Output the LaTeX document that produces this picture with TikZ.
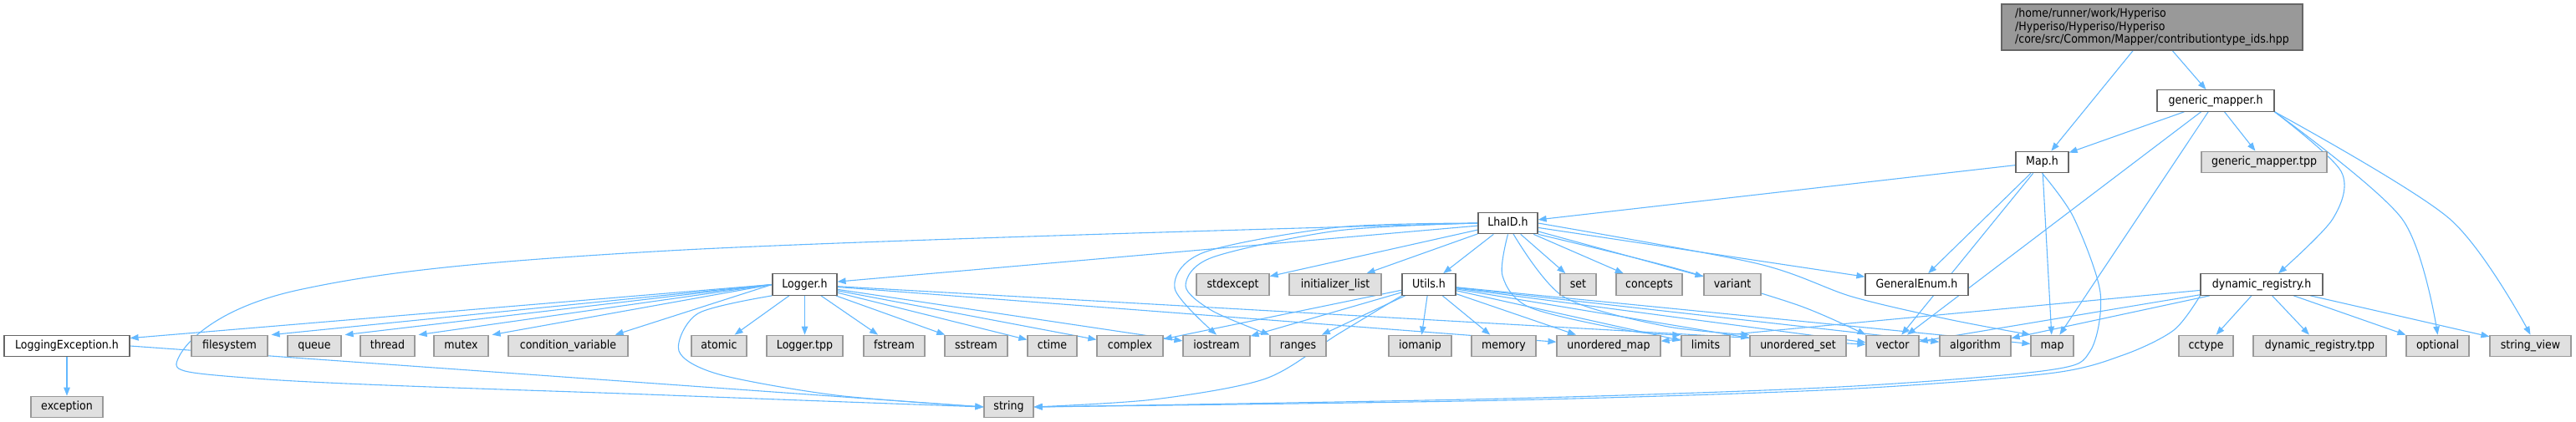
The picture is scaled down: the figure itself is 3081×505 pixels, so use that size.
\documentclass[tikz,border=0pt]{standalone}
\usepackage{fontspec}
\setmainfont{DejaVu Sans Condensed}
\usetikzlibrary{arrows.meta}
\usetikzlibrary{backgrounds}
\definecolor{edgeblue}{HTML}{63B8FF}
\definecolor{fileframe}{HTML}{666666}
\definecolor{sysframe}{HTML}{999999}
\definecolor{sysfill}{HTML}{E0E0E0}
\definecolor{rootfill}{HTML}{999999}
\tikzset{>={Triangle[length=10pt,width=7.5pt]}}
\tikzset{
  file/.style={draw=fileframe, fill=white, line width=1.2pt, minimum height=25.5pt,
    inner sep=0pt, text height=10.5pt, text depth=3pt, font=\fontsize{14}{16}\selectfont},
  sysfile/.style={file, draw=sysframe, fill=sysfill},
  dep/.style={->, draw=edgeblue, line width=1.1pt}
}

\begin{document}
\begin{tikzpicture}[x=1pt,y=-1pt]
\useasboundingbox (0,0) rectangle (3081,505);

% the file itself
\node[draw=fileframe, fill=rootfill, line width=1.2pt, minimum width=360pt, minimum height=55pt,
  inner sep=0pt, align=left, font=\fontsize{14}{15.5}\selectfont] (root) at (2574,32.5)
  {/home/runner/work/Hyperiso\\/Hyperiso/Hyperiso/Hyperiso\\/core/src/Common/Mapper/contributiontype\_ids.hpp};

% project headers
\node[file, minimum width=140pt] (gmh) at (2650,120.5) {generic\_mapper.h};
\node[file, minimum width=63pt] (maph) at (2442.5,194) {Map.h};
\node[sysfile, minimum width=150pt] (gmtpp) at (2708,194) {generic\_mapper.tpp};
\node[file, minimum width=71pt] (lhaid) at (1803.5,267) {LhaID.h};

\node[file, minimum width=77pt] (logger) at (962.5,340.5) {Logger.h};
\node[sysfile, minimum width=87pt] (stdexcept) at (1474.5,340.5) {stdexcept};
\node[sysfile, minimum width=110pt] (initlist) at (1597,340.5) {initializer\_list};
\node[file, minimum width=64pt] (utils) at (1709,340.5) {Utils.h};
\node[sysfile, minimum width=43pt] (set) at (1887.5,340.5) {set};
\node[sysfile, minimum width=79pt] (concepts) at (1972.5,340.5) {concepts};
\node[sysfile, minimum width=68pt] (variant) at (2072,340.5) {variant};
\node[file, minimum width=123pt] (genenum) at (2292.5,340.5) {GeneralEnum.h};
\node[file, minimum width=146pt] (dynreg) at (2705,340.5) {dynamic\_registry.h};

% leaves
\node[file, minimum width=150pt] (logexc) at (80,414) {LoggingException.h};
\node[sysfile, minimum width=91pt] (filesystem) at (274.5,414) {filesystem};
\node[sysfile, minimum width=64pt] (queue) at (376,414) {queue};
\node[sysfile, minimum width=65pt] (thread) at (463.5,414) {thread};
\node[sysfile, minimum width=65pt] (mutex) at (551.5,414) {mutex};
\node[sysfile, minimum width=143pt] (condvar) at (679.5,414) {condition\_variable};
\node[sysfile, minimum width=66pt] (atomic) at (860,414) {atomic};
\node[sysfile, minimum width=91pt] (loggertpp) at (962.5,414) {Logger.tpp};
\node[sysfile, minimum width=73pt] (fstream) at (1069.5,414) {fstream};
\node[sysfile, minimum width=75pt] (sstream) at (1167.5,414) {sstream};
\node[sysfile, minimum width=59pt] (ctime) at (1258.5,414) {ctime};
\node[sysfile, minimum width=79pt] (complex) at (1351.5,414) {complex};
\node[sysfile, minimum width=80pt] (iostream) at (1455,414) {iostream};
\node[sysfile, minimum width=67pt] (ranges) at (1552.5,414) {ranges};
\node[sysfile, minimum width=75pt] (iomanip) at (1698.5,414) {iomanip};
\node[sysfile, minimum width=77pt] (memory) at (1798.5,414) {memory};
\node[sysfile, minimum width=124pt] (unordmap) at (1924,414) {unordered\_map};
\node[sysfile, minimum width=58pt] (limits) at (2040,414) {limits};
\node[sysfile, minimum width=115pt] (unordset) at (2150.5,414) {unordered\_set};
\node[sysfile, minimum width=63pt] (vector) at (2263.5,414) {vector};
\node[sysfile, minimum width=85pt] (algorithm) at (2362.5,414) {algorithm};
\node[sysfile, minimum width=51pt] (map) at (2454.5,414) {map};
\node[sysfile, minimum width=65pt] (cctype) at (2638.5,414) {cctype};
\node[sysfile, minimum width=159pt] (dynregtpp) at (2774.5,414) {dynamic\_registry.tpp};
\node[sysfile, minimum width=75pt] (optional) at (2915.5,414) {optional};
\node[sysfile, minimum width=97pt] (stringview) at (3026.5,414) {string\_view};

\node[sysfile, minimum width=86pt] (exception) at (80,487) {exception};
\node[sysfile, minimum width=59pt] (string) at (1206.5,487) {string};

\begin{pgfonlayer}{background}
% straight includes
\draw[dep] (root) -- (maph);
\draw[dep] (root) -- (gmh);
\foreach \t in {maph,gmtpp,vector,map} \draw[dep] (gmh) -- (\t);
\foreach \t in {lhaid,genenum,vector,map} \draw[dep] (maph) -- (\t);
\foreach \t in {logger,stdexcept,initlist,utils,set,concepts,variant,genenum}
  \draw[dep] (lhaid) -- (\t);
\draw[dep] (logger.west) -- ([yshift=-4pt]logexc.north east);
\foreach \t in {filesystem,queue,thread,mutex}
  \draw[dep] (logger.west) -- ([xshift=4pt]\t.north east);
\draw[dep] (logger.west) -- ([xshift=-16pt]condvar.north east);
\foreach \t in {atomic,loggertpp,fstream,sstream,ctime,complex,iostream,unordmap,vector}
  \draw[dep] (logger) -- (\t);
\foreach \t in {complex,iostream,ranges,iomanip,memory,unordmap,limits,unordset,vector,algorithm,map}
  \draw[dep] (utils) -- (\t);
\foreach \t in {unordmap,vector,algorithm,cctype,dynregtpp,optional,stringview}
  \draw[dep] (dynreg) -- (\t);
\draw[dep] (logexc) -- (exception);
\draw[dep] (logexc.east) -- (string.west);

% routed includes
\draw[dep] plot[smooth, tension=0.6] coordinates {(lhaid.west) (800,300) (357,347) (214,427) (306,453) (800,473) (string.west)};
\draw[dep] plot[smooth] coordinates {(logger.south west) (835,375) (812,420) (860,448) (1000,473) (string.west)};
\draw[dep] plot[smooth] coordinates {(utils.south west) (1600,400) (1514,453) (1380,478) (string.east)};
\draw[dep] plot[smooth] coordinates {(maph.south) (2480,260) (2512,350) (2500,420) (2450,443) (2200,463) (1800,477) (string.east)};
\draw[dep] plot[smooth] coordinates {(dynreg.south west) (2600,395) (2539,425) (2450,447) (2200,466) (1800,479) (string.east)};
\draw[dep] plot[smooth] coordinates {(lhaid.west) (1600,272) (1440,302) (1405,345) (iostream.north)};
\draw[dep] plot[smooth] coordinates {(lhaid.west) (1600,276) (1450,308) (1418,342) (1450,372) (ranges.north west)};
\draw[dep] plot[smooth] coordinates {(lhaid.south) (1797,330) (1830,368) (1950,396) (limits.north west)};
\draw[dep] plot[smooth] coordinates {(1810,280) (1870,355) (1990,390) (unordset.north west)};
\draw[dep] plot[smooth] coordinates {(lhaid.south east) (2000,320) (2150,365) (vector.north west)};
\draw[dep] plot[smooth] coordinates {(lhaid.east) (2100,315) (2215,355) (2330,382) (map.north west)};
\draw[dep] plot[smooth] coordinates {(gmh.south east) (2800,205) (2790,262) ([xshift=20pt]dynreg.north)};
\draw[dep] plot[smooth] coordinates {(gmh.south east) (2873,262) (optional.north)};
\draw[dep] plot[smooth] coordinates {(gmh.south east) (2930,262) (stringview.north)};
\end{pgfonlayer}
\end{tikzpicture}
\end{document}
